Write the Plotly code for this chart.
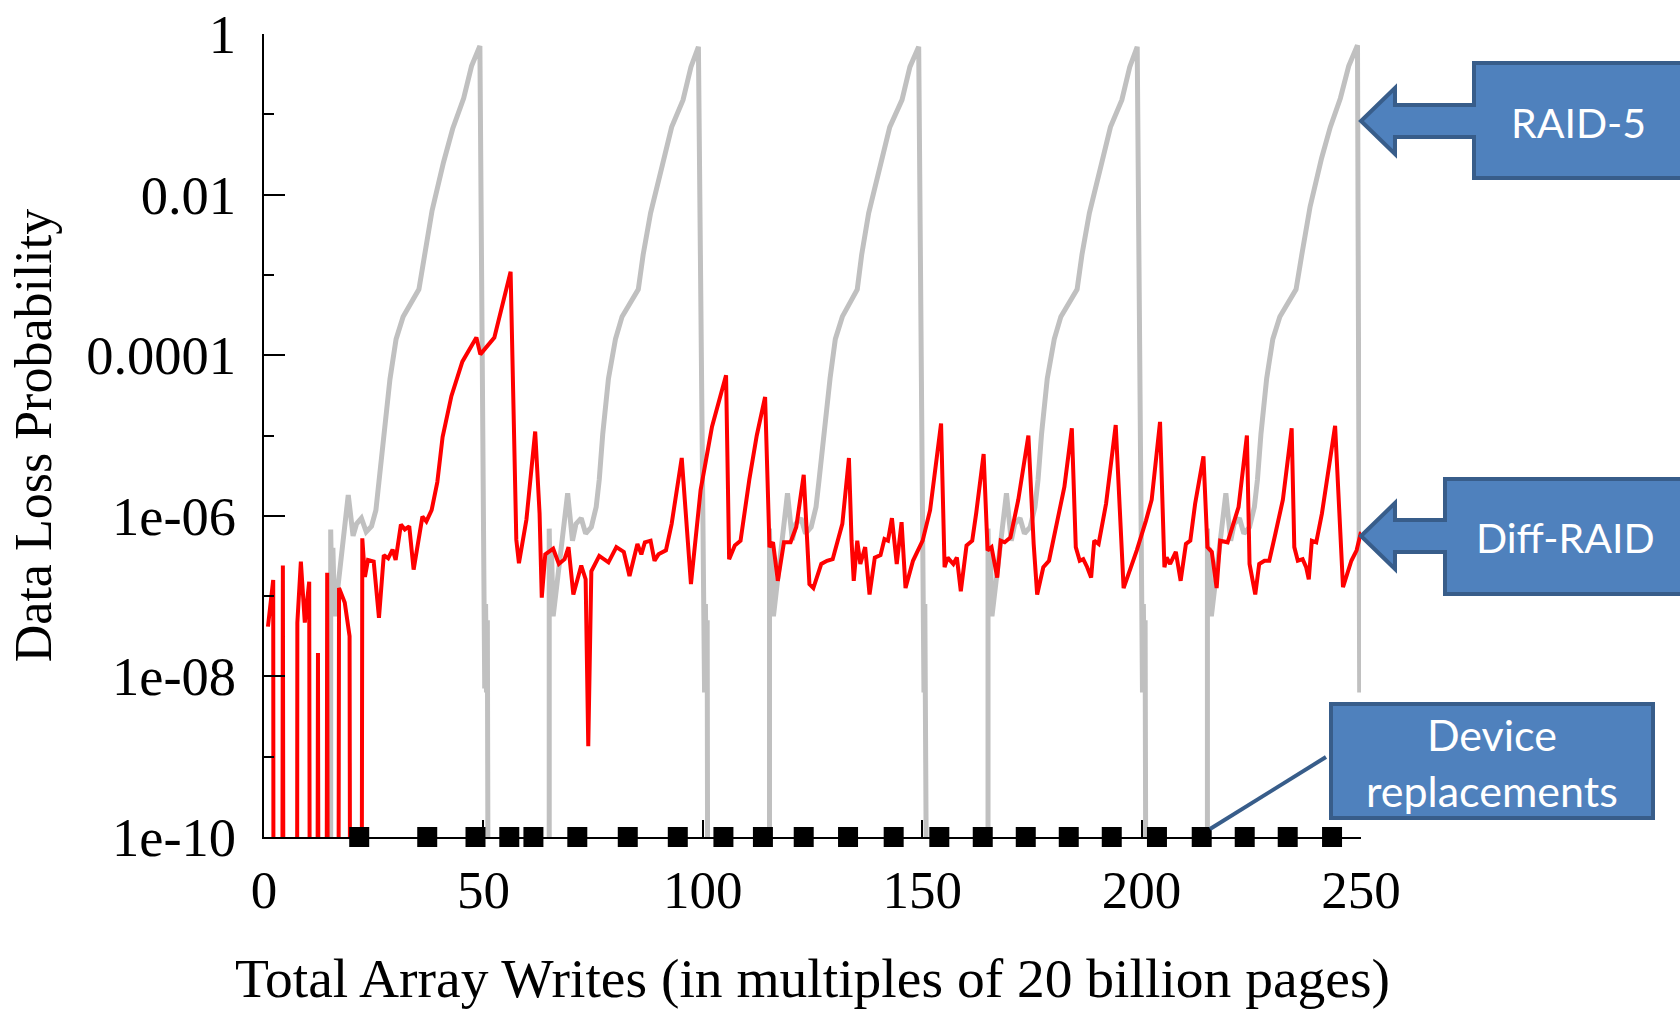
import plotly.graph_objects as go

# ---------------------------------------------------------------------------
# Data (probabilities stored as log10 exponents; -14 means "below 1e-10")
# ---------------------------------------------------------------------------
raid5_x = [
    0.0, 15.2, 15.2, 15.5, 15.7, 16.1, 19.2, 20.3, 21.1, 22.2, 23.3, 24.5, 25.5, 26.2,
    27.5, 28.7, 30.1, 31.7, 35.3, 36.5, 38.3, 40.9, 43.0, 45.5, 47.3, 49.2,
    50.1, 50.3, 50.5, 50.7, 50.9, 51.0, 51.2,
    65.0, 65.0, 65.3, 65.5, 65.9, 69.2, 70.3, 71.1, 72.3, 73.3, 74.6, 75.7, 76.4,
    77.2, 78.5, 80.1, 81.6, 85.3, 86.4, 88.1, 90.8, 92.9, 95.5, 97.3, 99.0,
    100.2, 100.4, 100.6, 100.8, 101.0, 101.1, 101.2,
    115.2, 115.2, 115.5, 115.7, 116.1, 119.3, 120.4, 121.2, 122.4, 123.4, 124.7, 125.8, 126.5,
    127.6, 129.0, 130.2, 131.8, 135.2, 136.2, 137.8, 140.5, 142.6, 145.4, 147.2, 149.2,
    150.2, 150.4, 150.6, 150.8, 150.9, 151.0, 151.3,
    165.0, 165.0, 165.3, 165.5, 165.9, 169.2, 170.3, 171.1, 172.3, 173.3, 174.6, 175.7, 176.4,
    177.2, 178.5, 180.1, 181.6, 185.3, 186.4, 188.1, 190.8, 192.9, 195.5, 197.3, 199.0,
    199.9, 200.2, 200.4, 200.6, 200.8, 200.9, 201.1,
    215.0, 215.0, 215.3, 215.5, 215.9, 219.2, 220.3, 221.1, 222.3, 223.3, 224.6, 225.7, 226.4,
    227.2, 228.5, 229.9, 231.5, 235.2, 236.5, 238.4, 241.0, 243.0, 245.3, 247.2, 249.2,
    249.5, 249.6, 249.7, 249.7,
]
raid5_log10 = [
    -14, -14, -6.17, -7.20, -6.40, -7.25, -5.74, -6.25, -6.10, -6.03, -6.20, -6.13, -5.93, -5.55,
    -4.95, -4.30, -3.80, -3.52, -3.18, -2.75, -2.20, -1.60, -1.18, -0.80, -0.40, -0.15,
    -7.05, -8.15, -7.10, -8.20, -7.30, -8.20, -14,
    -14, -6.16, -7.20, -6.40, -7.25, -5.72, -6.31, -6.10, -6.03, -6.22, -6.14, -5.89, -5.55,
    -4.98, -4.29, -3.80, -3.52, -3.18, -2.75, -2.23, -1.63, -1.16, -0.82, -0.41, -0.16,
    -7.06, -8.20, -7.10, -8.20, -7.30, -8.20, -14,
    -14, -6.16, -7.20, -6.40, -7.25, -5.72, -6.30, -6.10, -6.03, -6.22, -6.14, -5.89, -5.55,
    -4.98, -4.29, -3.80, -3.52, -3.18, -2.75, -2.23, -1.63, -1.16, -0.82, -0.41, -0.16,
    -7.06, -8.20, -7.10, -8.20, -7.30, -8.20, -14,
    -14, -6.16, -7.20, -6.40, -7.25, -5.72, -6.31, -6.10, -6.03, -6.22, -6.14, -5.89, -5.55,
    -4.98, -4.29, -3.80, -3.52, -3.18, -2.75, -2.23, -1.63, -1.16, -0.82, -0.41, -0.16,
    -7.06, -8.20, -7.10, -8.20, -7.30, -8.20, -14,
    -14, -6.16, -7.20, -6.40, -7.25, -5.72, -6.31, -6.10, -6.03, -6.22, -6.14, -5.89, -5.55,
    -4.98, -4.29, -3.80, -3.52, -3.18, -2.75, -2.15, -1.55, -1.16, -0.80, -0.40, -0.14,
    -7.06, -8.20, -7.10, -8.20,
]

diff_x = [
    0.9, 1.9, 2.1, 2.2,
    4.1, 4.3, 4.5,
    7.5, 7.6, 8.4, 9.3, 10.3, 10.5,
    12.1, 12.3, 12.5,
    14.2, 14.4, 14.6,
    16.9, 17.1, 18.4, 19.5, 19.7,
    22.2, 22.4, 23.0, 23.7, 25.0, 26.2, 27.3, 28.3, 29.3, 30.0, 31.2, 32.1, 33.1, 34.1,
    36.1, 37.0, 38.2, 39.5, 40.7, 42.7, 45.2, 48.4, 49.3, 52.5, 56.2, 57.5, 58.1, 59.8,
    61.8, 62.8, 63.3, 64.1, 65.9, 67.2, 68.5, 69.4, 70.5, 72.3, 73.3, 73.9, 74.6, 76.4,
    78.5, 80.3, 82.0, 83.3, 85.1, 86.0, 86.8, 88.1, 89.0, 89.9, 91.6, 92.9, 95.2, 97.3,
    98.2, 99.5, 102.1, 104.6, 105.3, 106.0, 107.3, 108.6, 110.6, 112.3, 114.2, 115.2,
    116.0, 117.1, 118.5, 120.0, 121.3, 123.0, 124.3, 125.2, 127.0, 128.3, 129.6, 131.8,
    133.3, 133.9, 134.4, 135.2, 135.9, 137.0, 138.0, 139.2, 140.5, 141.4, 142.2, 143.1,
    144.2, 145.3, 146.2, 147.9, 148.8, 150.1, 151.8, 154.3, 155.1, 155.8, 157.1, 157.9,
    158.8, 160.1, 161.4, 162.3, 164.0, 164.9, 165.8, 167.1, 167.9, 168.8, 170.1, 171.9,
    174.2, 175.4, 176.2, 177.6, 178.9, 180.6, 182.4, 184.1, 185.0, 185.9, 186.7, 187.6,
    188.5, 189.2, 190.2, 191.9, 194.1, 195.9, 197.6, 198.9, 201.0, 202.3, 204.2, 205.2,
    205.7, 206.5, 207.8, 208.9, 210.1, 211.1, 212.2, 214.1, 215.0, 216.0, 217.1, 217.9,
    219.6, 220.9, 222.1, 224.0, 224.6, 225.9, 226.8, 228.0, 229.1, 230.5, 232.2, 234.2,
    234.8, 235.6, 236.7, 237.5, 238.1, 238.8, 239.8, 241.1, 244.1, 245.9, 247.8, 249.0,
    250.0,
]
diff_log10 = [
    -7.38, -6.80, -6.80, -14,
    -14, -6.62, -14,
    -14, -7.33, -6.57, -7.33, -6.82, -14,
    -14, -7.71, -14,
    -14, -6.71, -14,
    -14, -6.90, -7.08, -7.50, -14,
    -14, -6.28, -6.76, -6.55, -6.57, -7.27, -6.49, -6.53, -6.42, -6.55, -6.11, -6.17, -6.13, -6.67,
    -6.01, -6.07, -5.93, -5.58, -5.02, -4.51, -4.08, -3.78, -3.99, -3.78, -2.96, -6.30, -6.59, -6.05,
    -4.95, -5.97, -7.02, -6.48, -6.41, -6.60, -6.54, -6.39, -6.98, -6.62, -6.79, -8.87, -6.69, -6.50,
    -6.58, -6.39, -6.45, -6.75, -6.35, -6.48, -6.33, -6.31, -6.56, -6.48, -6.43, -6.10, -5.28, -6.85,
    -6.39, -5.68, -4.89, -4.42, -4.25, -6.54, -6.37, -6.31, -5.55, -5.00, -4.52, -6.39,
    -6.33, -6.81, -6.33, -6.33, -6.14, -5.49, -6.85, -6.90, -6.60, -6.56, -6.54, -6.10,
    -5.28, -6.31, -6.81, -6.31, -6.60, -6.39, -6.98, -6.52, -6.49, -6.29, -6.31, -6.03,
    -6.60, -6.08, -6.90, -6.56, -6.45, -6.31, -5.93, -4.85, -6.64, -6.52, -6.60, -6.52,
    -6.94, -6.37, -6.31, -5.97, -5.23, -6.43, -6.39, -6.77, -6.31, -6.33, -6.27, -5.80,
    -5.00, -6.35, -6.98, -6.64, -6.56, -6.14, -5.64, -4.91, -6.39, -6.56, -6.54, -6.64,
    -6.77, -6.31, -6.35, -5.85, -4.87, -6.90, -6.64, -6.43, -6.06, -5.80, -4.83, -6.64,
    -6.52, -6.60, -6.45, -6.81, -6.35, -6.31, -5.85, -5.26, -6.39, -6.45, -6.90, -6.31,
    -6.33, -6.10, -5.89, -5.00, -6.60, -6.98, -6.60, -6.56, -6.56, -6.22, -5.80, -4.91,
    -6.39, -6.56, -6.54, -6.64, -6.79, -6.31, -6.33, -5.97, -4.88, -6.89, -6.56, -6.43,
    -6.20,
]

# Write counts at which a device was replaced (drawn on the x-axis)
replacement_x = [
    21.7, 37.2, 48.2, 55.9, 61.4, 71.4, 82.9, 94.3, 104.7, 113.7, 123.0, 133.1,
    143.5, 153.9, 163.8, 173.6, 183.4, 193.2, 203.5, 213.7, 223.5, 233.3, 243.4,
]
replacement_level = 1e-10

x_ticks = [0, 50, 100, 150, 200, 250]
y_major = [1e-10, 1e-8, 1e-6, 1e-4, 1e-2, 1]
y_major_text = ["1e-10", "1e-08", "1e-06", "0.0001", "0.01", "1"]
y_minor = [1e-9, 1e-7, 1e-5, 1e-3, 1e-1]

raid5_y = [10 ** v for v in raid5_log10]
diff_y = [10 ** v for v in diff_log10]

# ---------------------------------------------------------------------------
# Figure geometry (pixels)
# ---------------------------------------------------------------------------
FIG_W, FIG_H = 1680, 1009
PL, PR, PT, PB = 264, 1361, 34, 837          # plot-area edges
PW, PH = PR - PL, PB - PT


def px(x):
    return (x - PL) / PW


def py(y):
    return (PB - y) / PH


SERIF = "Liberation Serif, Times New Roman, serif"
CALLOUT_FONT = "Lato, Open Sans, sans-serif"
BOX_FILL = "#4f81bd"
BOX_EDGE = "#385d8a"

fig = go.Figure()

fig.add_trace(go.Scatter(
    x=raid5_x, y=raid5_y, mode="lines", name="RAID-5",
    line=dict(color="#c0c0c0", width=5),
))
fig.add_trace(go.Scatter(
    x=diff_x, y=diff_y, mode="lines", name="Diff-RAID",
    line=dict(color="#ff0000", width=4),
))
fig.add_trace(go.Scatter(
    x=replacement_x, y=[replacement_level] * len(replacement_x), mode="markers",
    name="Device replacements", cliponaxis=False,
    marker=dict(symbol="square", size=20, color="black", line=dict(width=0)),
))


def callout_arrow(tip_y, box_left, box_top, box_bottom, shaft_half=16, head_half=33,
                  tip_x=1361, head_x=1395, box_right=1700):
    pts = [
        (box_left, box_top), (box_right, box_top), (box_right, box_bottom),
        (box_left, box_bottom), (box_left, tip_y + shaft_half), (head_x, tip_y + shaft_half),
        (head_x, tip_y + head_half), (tip_x, tip_y), (head_x, tip_y - head_half),
        (head_x, tip_y - shaft_half), (box_left, tip_y - shaft_half),
    ]
    path = "M " + " L ".join(f"{px(a):.5f},{py(b):.5f}" for a, b in pts) + " Z"
    return dict(type="path", xref="paper", yref="paper", path=path,
                fillcolor=BOX_FILL, line=dict(color=BOX_EDGE, width=4), layer="above")


shapes = [
    callout_arrow(tip_y=121, box_left=1474, box_top=63, box_bottom=178),
    callout_arrow(tip_y=536, box_left=1445, box_top=479, box_bottom=594),
    dict(type="rect", xref="paper", yref="paper",
         x0=px(1331), x1=px(1653), y0=py(818), y1=py(704),
         fillcolor=BOX_FILL, line=dict(color=BOX_EDGE, width=4), layer="above"),
    dict(type="line", xref="paper", yref="paper",
         x0=px(1326), y0=py(757), x1=px(1210), y1=py(829),
         line=dict(color=BOX_EDGE, width=4), layer="above"),
]

annotations = [
    dict(text="RAID-5", x=px(1579), y=py(122), xref="paper", yref="paper",
         showarrow=False, xanchor="center", yanchor="middle",
         font=dict(family=CALLOUT_FONT, size=41, color="white")),
    dict(text="Diff-RAID", x=px(1565), y=py(537), xref="paper", yref="paper",
         showarrow=False, xanchor="center", yanchor="middle",
         font=dict(family=CALLOUT_FONT, size=41, color="white")),
    dict(text="Device<br>replacements", x=px(1492), y=py(762), xref="paper", yref="paper",
         showarrow=False, xanchor="center", yanchor="middle",
         font=dict(family=CALLOUT_FONT, size=43, color="white")),
]

fig.update_layout(
    width=FIG_W, height=FIG_H,
    margin=dict(l=PL, r=FIG_W - PR, t=PT, b=FIG_H - PB, pad=0),
    paper_bgcolor="white", plot_bgcolor="white",
    showlegend=False,
    shapes=shapes, annotations=annotations,
    xaxis=dict(
        range=[0, 250], tickvals=x_ticks, ticks="inside", ticklen=17, tickwidth=2,
        tickcolor="black", showline=True, linecolor="black", linewidth=2,
        showgrid=False, zeroline=False, automargin=False,
        tickfont=dict(family=SERIF, size=53, color="black"),
        ticklabelstandoff=5,
        title=dict(text="Total Array Writes (in multiples of 20 billion pages)",
                   font=dict(family=SERIF, size=55.5, color="black"), standoff=43),
    ),
    yaxis=dict(
        type="log", range=[-10, 0], tickvals=y_major, ticktext=y_major_text,
        ticks="inside", ticklen=21, tickwidth=2, tickcolor="black",
        minor=dict(tickvals=y_minor, ticks="inside", ticklen=10, tickwidth=2,
                   tickcolor="black", showgrid=False),
        showline=True, linecolor="black", linewidth=2,
        showgrid=False, zeroline=False, automargin=False,
        tickfont=dict(family=SERIF, size=54.5, color="black"),
        ticklabelstandoff=15,
        title=dict(text="Data Loss Probability",
                   font=dict(family=SERIF, size=52, color="black"), standoff=18),
    ),
)

fig.write_html("out.html")
